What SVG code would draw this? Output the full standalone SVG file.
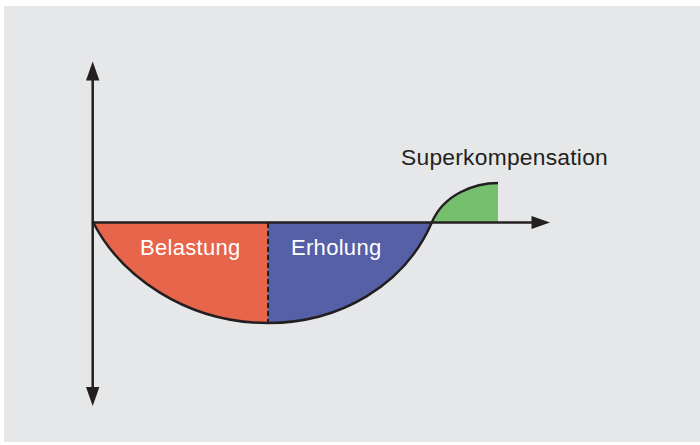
<svg xmlns="http://www.w3.org/2000/svg" width="700" height="445" viewBox="0 0 700 445">
  <style>
    .ax { stroke: #231f20; stroke-width: 2.5; fill: none; }
    .head { fill: #231f20; }
    .curve { stroke: #231f20; stroke-width: 2.5; fill: none; }
    .lbl { font-family: "Liberation Sans", Arial, sans-serif; font-size: 22px; fill: #ffffff; letter-spacing: 0.3px; }
    .dark { fill: #231f20; }
  </style>
  <rect x="0" y="0" width="700" height="445" fill="#ffffff"/>
  <rect x="4" y="6" width="696" height="436" fill="#e6e7e8"/>

  <g id="belastung">
    <path d="M93,222 C120,275 185,323 268,323 L268,222 Z" fill="#e6654b"/>
    <text class="lbl" x="140" y="255">Belastung</text>
  </g>
  <g id="erholung">
    <path d="M268,323 C340,323 405,285 432,222 L268,222 Z" fill="#5660a7"/>
    <text class="lbl" x="291" y="255">Erholung</text>
  </g>
  <g id="superkompensation">
    <path d="M432,222 C444,194 475,183 498,183 L498,222 Z" fill="#75bf6f"/>
    <text class="lbl dark" x="401" y="165" style="font-size:22.8px;letter-spacing:0.25px">Superkompensation</text>
  </g>

  <g id="connectors">
    <line class="ax" x1="92.7" y1="78" x2="92.7" y2="390"/>
    <polygon class="head" points="92.7,61.5 99.4,80.5 86,80.5"/>
    <polygon class="head" points="92.7,406 99.4,387 86,387"/>
    <line class="ax" x1="92" y1="222.5" x2="534" y2="222.5"/>
    <polygon class="head" points="550,222.5 531.5,216 531.5,229"/>
    <path class="curve" d="M93,222 C120,275 185,323 268,323 C340,323 405,285 432,222 C444,194 475,183 498,183"/>
    <line x1="268" y1="223" x2="268" y2="322" stroke="#231f20" stroke-width="2" stroke-dasharray="5,3"/>
  </g>
</svg>
